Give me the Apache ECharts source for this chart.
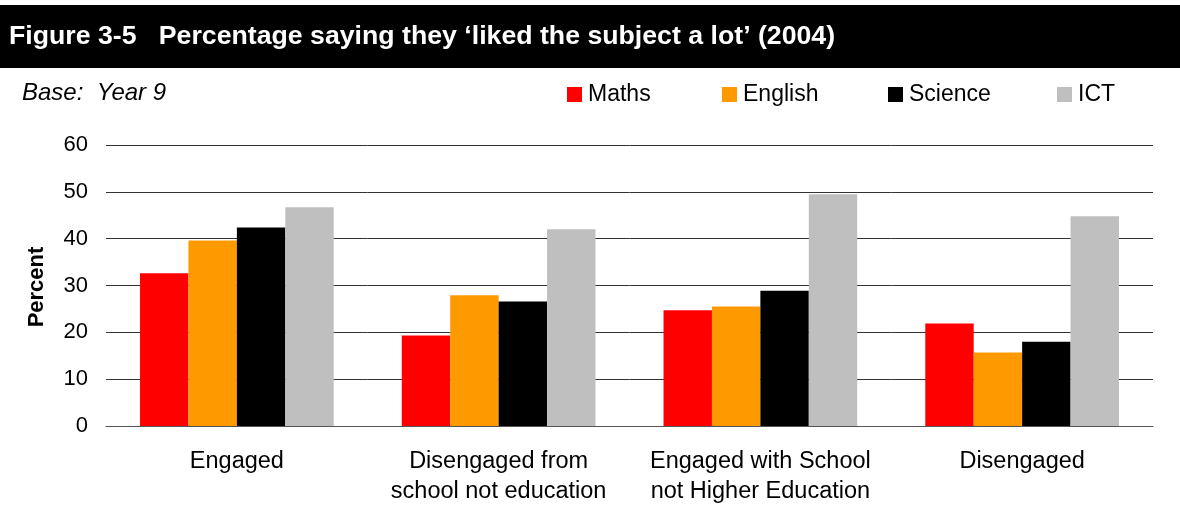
<!DOCTYPE html>
<html><head><meta charset="utf-8">
<script src="https://cdn.jsdelivr.net/npm/echarts@6/dist/echarts.min.js"></script>
<style>html,body{margin:0;padding:0;background:#fff}#c{width:1180px;height:527px}</style>
</head><body><div id="c"></div>
<script>
const categories = ['Engaged', 'Disengaged from\nschool not education', 'Engaged with School\nnot Higher Education', 'Disengaged'];
const maths = [32.6, 19.3, 24.7, 21.9];
const english = [39.6, 27.9, 25.5, 15.7];
const science = [42.4, 26.6, 28.9, 18.0];
const ict = [46.7, 42.0, 49.5, 44.8];
const seriesNames = ['Maths', 'English', 'Science', 'ICT'];
const colors = ['#FF0000', '#FF9900', '#000000', '#BFBFBF'];
const yTicks = [0, 10, 20, 30, 40, 50, 60];

const font = 'Liberation Sans, Arial, sans-serif';
const chart = echarts.init(document.getElementById('c'));
const legendLeft = [567, 722, 888, 1057];
const values = [maths, english, science, ict];
chart.setOption({
  animation: false,
  graphic: [
    {type: 'rect', shape: {x: 0, y: 5, width: 1180, height: 63}, style: {fill: '#000'}},
    {type: 'text', x: 9, y: 37, style: {text: 'Figure 3-5   Percentage saying they \u2018liked the subject a lot\u2019 (2004)', fill: '#fff', font: 'bold 26.7px ' + font, verticalAlign: 'middle'}},
    {type: 'text', x: 22, y: 93, style: {text: 'Base:  Year 9', fill: '#000', font: 'italic 24px ' + font, verticalAlign: 'middle'}},
    {type: 'text', x: 37, y: 287, rotation: Math.PI / 2, style: {text: 'Percent', fill: '#000', font: 'bold 22px ' + font, align: 'center', verticalAlign: 'middle'}}
  ],
  legend: seriesNames.map((n, i) => ({
    data: [n], left: legendLeft[i], top: 83, itemWidth: 15, itemHeight: 15, itemGap: 0,
    icon: 'rect', textStyle: {fontFamily: font, fontSize: 23, color: '#000', padding: [0, 0, 0, 1]}, padding: 0
  })),
  grid: {left: 106, right: 27, top: 145, bottom: 101},
  xAxis: {
    type: 'category', data: categories,
    axisLine: {show: true, lineStyle: {color: '#555', width: 1}},
    axisTick: {show: false},
    axisLabel: {fontFamily: font, fontSize: 23.5, color: '#000', margin: 21, lineHeight: 30, interval: 0}
  },
  yAxis: {
    type: 'value', min: yTicks[0], max: yTicks[yTicks.length - 1], interval: 10,
    axisLine: {show: false}, axisTick: {show: false},
    axisLabel: {fontFamily: font, fontSize: 22, color: '#000', margin: 18},
    splitLine: {lineStyle: {color: '#333', width: 1}}
  },
  series: seriesNames.map((n, i) => ({
    name: n, type: 'bar', data: values[i], barGap: '0%', barCategoryGap: '26%',
    itemStyle: {color: colors[i]}
  }))
});
</script></body></html>
